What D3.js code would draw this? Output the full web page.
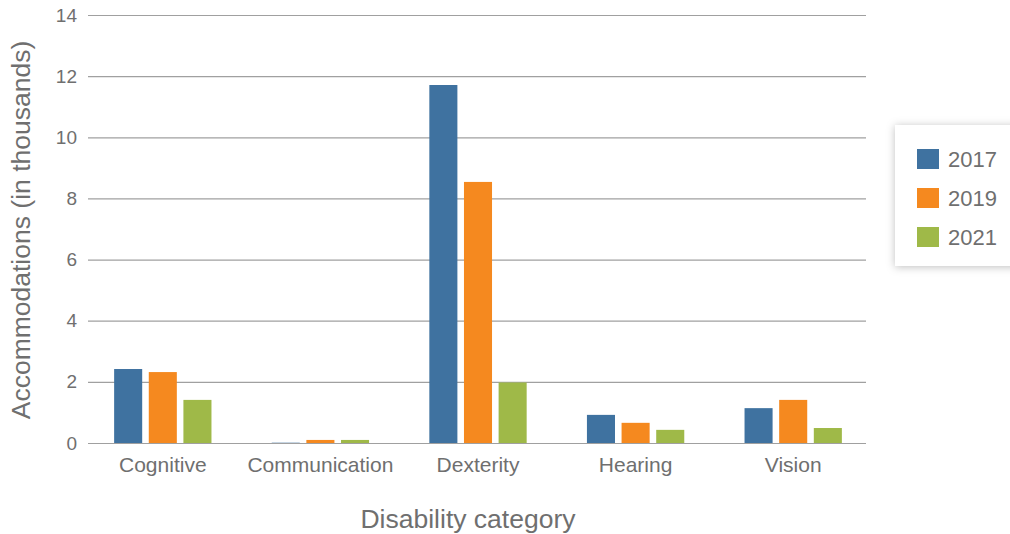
<!DOCTYPE html>
<html>
<head>
<meta charset="utf-8">
<script src="https://cdn.jsdelivr.net/npm/d3@7"></script>
<style>
  body { margin: 0; background: #fff; }
  svg { font-family: "Liberation Sans", Arial, Helvetica, sans-serif; }
  .grid line { stroke: #a0a0a0; stroke-width: 1.2; }
  .tick text { fill: #6f6f6f; }
</style>
</head>
<body>
<svg id="chart" width="1010" height="534"></svg>
<script>
// data (thousands)
var categories = ["Cognitive", "Communication", "Dexterity", "Hearing", "Vision"];
var years = ["2017", "2019", "2021"];
var values2017 = [2.42, 0.01, 11.71, 0.92, 1.14];
var values2019 = [2.32, 0.10, 8.54, 0.66, 1.41];
var values2021 = [1.41, 0.10, 1.98, 0.43, 0.49];
var yTicks = [0, 2, 4, 6, 8, 10, 12, 14];
var colors = ["#3f72a0", "#f5891f", "#9fb948"];

var series = [values2017, values2019, values2021];

var svg = d3.select("#chart");
var plotLeft = 84, plotRight = 872, plotTop = 15, plotBottom = 443;
var gridLeft = 88, gridRight = 866;

var x = d3.scaleBand().domain(categories).range([plotLeft, plotRight]).paddingInner(0).paddingOuter(0);
var x1 = d3.scaleBand().domain(years).range([0, x.bandwidth()]).paddingInner(0.19).paddingOuter(0.87);
var y = d3.scaleLinear().domain([0, 14]).range([plotBottom, plotTop]);

// gridlines + y labels
var yAxis = svg.append("g")
    .attr("class", "grid")
    .attr("transform", "translate(" + gridLeft + ",0)")
    .call(d3.axisLeft(y).tickValues(yTicks).tickSize(-(gridRight - gridLeft)).tickPadding(11));
yAxis.select(".domain").remove();
yAxis.selectAll("text").style("font-size", "19px");

// bars
var groups = svg.selectAll(".cat")
    .data(categories)
  .enter().append("g")
    .attr("class", "cat")
    .attr("transform", function(d) { return "translate(" + x(d) + ",0)"; });

groups.selectAll("rect")
    .data(function(d, i) {
        return years.map(function(yr, j) { return { year: yr, value: series[j][i], color: colors[j] }; });
    })
  .enter().append("rect")
    .attr("x", function(d) { return x1(d.year); })
    .attr("width", x1.bandwidth())
    .attr("y", function(d) { return y(d.value); })
    .attr("height", function(d) { return plotBottom - y(d.value); })
    .attr("fill", function(d) { return d.color; });

// x labels
var xAxis = svg.append("g")
    .attr("transform", "translate(0," + plotBottom + ")")
    .call(d3.axisBottom(x).tickSize(0).tickPadding(14));
xAxis.select(".domain").remove();
xAxis.selectAll("text").style("font-size", "21px");

// axis titles
svg.append("text")
    .attr("transform", "translate(30," + ((plotTop + plotBottom) / 2 + 1) + ") rotate(-90)")
    .attr("text-anchor", "middle")
    .attr("fill", "#6f6f6f")
    .style("font-size", "26.5px")
    .text("Accommodations (in thousands)");

svg.append("text")
    .attr("x", 468)
    .attr("y", 528)
    .attr("text-anchor", "middle")
    .attr("fill", "#6f6f6f")
    .style("font-size", "26.5px")
    .text("Disability category");

// legend with drop shadow
var defs = svg.append("defs");
var f = defs.append("filter").attr("id", "shadow").attr("x", "-20%").attr("y", "-20%").attr("width", "140%").attr("height", "140%");
f.append("feDropShadow").attr("dx", 0).attr("dy", 1).attr("stdDeviation", 4).attr("flood-color", "#000").attr("flood-opacity", 0.25);

var legend = svg.append("g").attr("transform", "translate(895,125)");
legend.append("rect")
    .attr("width", 130).attr("height", 141)
    .attr("fill", "#fff")
    .attr("filter", "url(#shadow)");

var items = legend.selectAll(".item")
    .data(years)
  .enter().append("g")
    .attr("class", "item")
    .attr("transform", function(d, i) { return "translate(22," + (24 + i * 39) + ")"; });

items.append("rect")
    .attr("width", 22).attr("height", 20)
    .attr("fill", function(d, i) { return colors[i]; });

items.append("text")
    .attr("x", 31).attr("y", 18)
    .attr("fill", "#6f6f6f")
    .style("font-size", "22px")
    .text(function(d) { return d; });
</script>
</body>
</html>
